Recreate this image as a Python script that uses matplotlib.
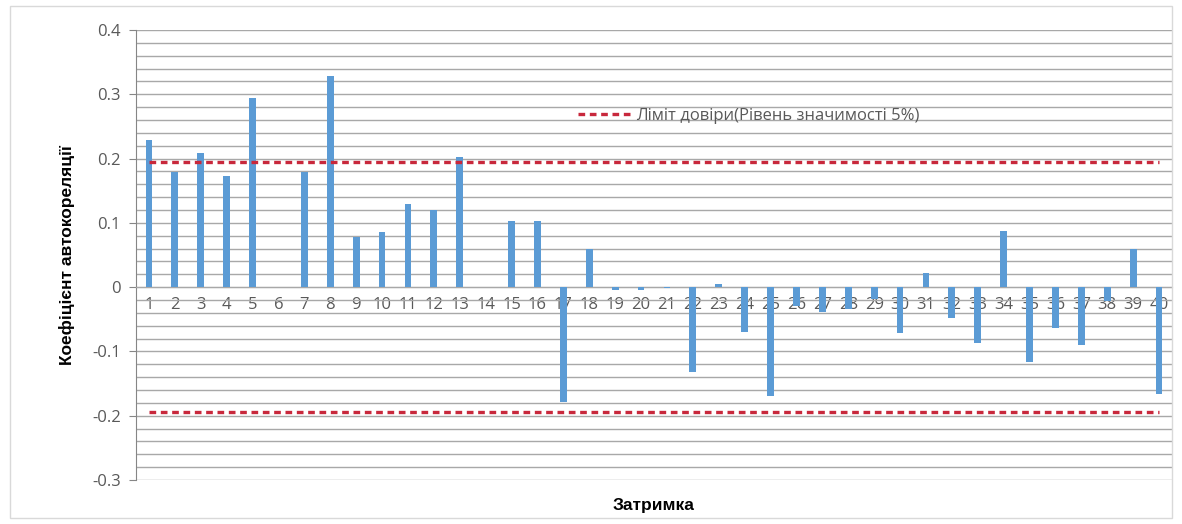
import numpy as np
import matplotlib.pyplot as plt
from matplotlib.patches import Rectangle
from matplotlib.ticker import MultipleLocator

# lags and autocorrelation values
lags = list(range(1, 41))
acf = [0.229, 0.179, 0.209, 0.173, 0.294, 0.0, 0.179, 0.328, 0.078, 0.086,
       0.129, 0.120, 0.202, 0.0, 0.103, 0.103, -0.179, 0.060, -0.005, -0.005,
       -0.002, -0.132, 0.005, -0.070, -0.169, -0.030, -0.039, -0.034, -0.019, -0.072,
       0.022, -0.048, -0.087, 0.087, -0.117, -0.063, -0.090, -0.021, 0.059, -0.166]
conf_limit = 0.194
legend_text = "Ліміт довіри(Рівень значимості 5%)"

grey_txt = "#595959"
grid_col = "#a8a8a8"
font_list = ["Open Sans", "DejaVu Sans"]
plt.rcParams['font.family'] = font_list

fig = plt.figure(figsize=(11.82, 5.24), dpi=100)
ax = fig.add_axes([136/1182, 1-480/524, (1172-136)/1182, 450/524])

# outer chart border
fig.patches.append(Rectangle((10/1182, 6/524), 1162/1182, 512/524, transform=fig.transFigure,
                             fill=False, edgecolor="#d9d9d9", linewidth=1))

dash = (0, (2.0, 1.4))
ax.bar(lags, acf, width=0.26, color="#5b9bd5", zorder=3)
ax.plot(lags, [conf_limit]*len(lags), color="#c8283c", linestyle=dash,
        linewidth=2.4, zorder=4, label=legend_text)
ax.plot(lags, [-conf_limit]*len(lags), color="#c8283c", linestyle=dash,
        linewidth=2.4, zorder=4)

ax.set_xlim(0.5, 40.5)
ax.set_ylim(-0.3, 0.4)
ax.yaxis.set_minor_locator(MultipleLocator(0.02))
ax.set_yticks(np.arange(-0.3, 0.41, 0.1))
ax.set_yticklabels(["-0.3", "-0.2", "-0.1", "0", "0.1", "0.2", "0.3", "0.4"])
ax.grid(True, which="both", axis="y", color=grid_col, linewidth=1.0, zorder=0)
ax.set_axisbelow(True)

ax.set_xticks(lags)
ax.set_xticklabels([str(l) for l in lags])
ax.spines['bottom'].set_position(('data', 0))
ax.spines['bottom'].set_color(grid_col)
ax.spines['top'].set_visible(False)
ax.spines['right'].set_visible(False)
ax.spines['left'].set_color("#868686")
ax.tick_params(axis="x", length=0, pad=7, labelsize=12, labelcolor=grey_txt)
ax.tick_params(axis="y", which="major", length=5, color="#868686", labelsize=12,
               labelcolor=grey_txt, pad=6)
ax.tick_params(axis="y", which="minor", length=0)

ax.set_ylabel("Коефіцієнт автокореляції", fontsize=12.5, fontweight="bold",
              family=["Liberation Sans", "DejaVu Sans"], labelpad=12)
ax.text(0.5, -0.04, "Затримка", transform=ax.transAxes, ha="center", va="top",
        fontsize=12.5, fontweight="bold", family=["Liberation Sans", "DejaVu Sans"])

leg = ax.legend(loc="upper left", bbox_to_anchor=(0.42, 0.842), frameon=False,
                fontsize=12, handlelength=3.3, handletextpad=0.2, borderaxespad=0)
for t in leg.get_texts():
    t.set_color(grey_txt)

fig.savefig("out.png", dpi=100)
